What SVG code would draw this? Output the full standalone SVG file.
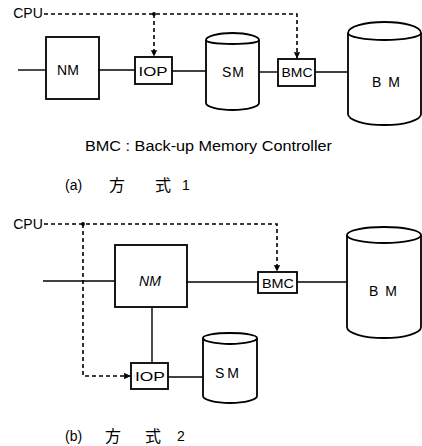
<svg xmlns="http://www.w3.org/2000/svg" width="422" height="446" viewBox="0 0 422 446">
  <defs>
    <marker id="tip" viewBox="0 0 6 6" refX="5.5" refY="3" markerWidth="4" markerHeight="4" orient="auto">
      <path d="M0,0 L6,3 L0,6 Z" fill="#000"/>
    </marker>
    <style>
      .box { fill: #fff; stroke: #000; stroke-width: 1.8; }
      .cyl { fill: #fff; stroke: #000; stroke-width: 1.8; stroke-linejoin: round; }
      .wire { fill: none; stroke: #000; stroke-width: 1.4; }
      .ctl { fill: none; stroke: #000; stroke-width: 1.6; stroke-dasharray: 4 3; }
      .lbl { font-family: "Liberation Sans", "DejaVu Sans", sans-serif; font-size: 14px; fill: #000; text-anchor: middle; }
      .sm { font-size: 13px; }
      .cap { font-family: "Liberation Sans", "Noto Sans CJK JP", sans-serif; font-size: 14px; fill: #000; }
      .kj { font-size: 16px; }
    </style>
  </defs>

  <rect width="422" height="446" fill="#fff"/>

  <!-- (a) scheme 1 : connectors -->
  <g id="connectors-a">
    <path class="wire" d="M18,70 H46"/>
    <path class="wire" d="M99,70 H135"/>
    <path class="wire" d="M172,71 H206"/>
    <path class="wire" d="M259,72 H278"/>
    <path class="wire" d="M315,72 H348"/>
    <path class="ctl" d="M44,14 H297 V58" marker-end="url(#tip)"/>
    <path class="ctl" d="M154,14 V56" marker-end="url(#tip)"/>
    <circle cx="154" cy="14" r="1.9" fill="#000"/>
  </g>

  <g id="cpu-a"><text class="lbl" x="28" y="18">CPU</text></g>
  <g id="nm-a">
    <rect class="box" x="46" y="37" width="53" height="62"/>
    <text class="lbl" x="68" y="75">NM</text>
  </g>
  <g id="iop-a">
    <rect class="box" x="135" y="57" width="37" height="27"/>
    <text class="lbl sm" x="153" y="76" textLength="29" lengthAdjust="spacingAndGlyphs">IOP</text>
  </g>
  <g id="sm-a">
    <path class="cyl" d="M206,40 A26.5,7 0 0 1 259,40 V103 A26.5,7 0 0 1 206,103 Z"/>
    <path class="cyl" fill="none" d="M206,40 A26.5,4 0 0 0 259,40"/>
    <text class="lbl" x="233" y="77" textLength="22" lengthAdjust="spacing">SM</text>
  </g>
  <g id="bmc-a">
    <rect class="box" x="278" y="59" width="37" height="27"/>
    <text class="lbl sm" x="297" y="77" textLength="31" lengthAdjust="spacingAndGlyphs">BMC</text>
  </g>
  <g id="bm-a">
    <path class="cyl" d="M348,33 A36.5,11 0 0 1 421,33 V114 A36.5,11 0 0 1 348,114 Z"/>
    <path class="cyl" fill="none" d="M348,33 A36.5,7 0 0 0 421,33"/>
    <text class="lbl" x="386" y="87" textLength="28" lengthAdjust="spacing">BM</text>
  </g>

  <text class="cap" x="85" y="151" textLength="247" lengthAdjust="spacingAndGlyphs">BMC : Back-up Memory Controller</text>
  <g class="cap">
    <text x="65" y="190">(a)</text>
    <text class="kj" x="109" y="191">方</text>
    <text class="kj" x="155" y="191">式</text>
    <text x="182" y="190">1</text>
  </g>

  <!-- (b) scheme 2 : connectors -->
  <g id="connectors-b">
    <path class="wire" d="M43,281 H115"/>
    <path class="wire" d="M187,282 H258"/>
    <path class="wire" d="M297,282 H347"/>
    <path class="wire" d="M152,307 V363"/>
    <path class="wire" d="M168,377 H203"/>
    <path class="ctl" d="M44,224 H277 V271" marker-end="url(#tip)"/>
    <path class="ctl" d="M83,224 V376 H130" marker-end="url(#tip)"/>
    <circle cx="83" cy="224" r="1.9" fill="#000"/>
  </g>

  <g id="cpu-b"><text class="lbl" x="28" y="229">CPU</text></g>
  <g id="nm-b">
    <rect class="box" x="115" y="245" width="72" height="62"/>
    <text class="lbl" x="150" y="286" font-style="italic">NM</text>
  </g>
  <g id="bmc-b">
    <rect class="box" x="258" y="272" width="39" height="21"/>
    <text class="lbl sm" x="278" y="288" textLength="32" lengthAdjust="spacingAndGlyphs">BMC</text>
  </g>
  <g id="bm-b">
    <path class="cyl" d="M347,235 A37,8 0 0 1 421,235 V327 A37,11 0 0 1 347,327 Z"/>
    <path class="cyl" fill="none" d="M347,235 A37,8 0 0 0 421,235"/>
    <text class="lbl" x="383" y="296" textLength="28" lengthAdjust="spacing">BM</text>
  </g>
  <g id="iop-b">
    <rect class="box" x="131" y="363" width="37" height="26"/>
    <text class="lbl sm" x="150" y="381" textLength="30" lengthAdjust="spacingAndGlyphs">IOP</text>
  </g>
  <g id="sm-b">
    <path class="cyl" d="M203,338 A27,5 0 0 1 257,338 V396 A27,7 0 0 1 203,396 Z"/>
    <path class="cyl" fill="none" d="M203,338 A27,6 0 0 0 257,338"/>
    <text class="lbl" x="227" y="378" textLength="24" lengthAdjust="spacing">SM</text>
  </g>

  <g class="cap">
    <text x="65" y="441">(b)</text>
    <text class="kj" x="105" y="442">方</text>
    <text class="kj" x="145" y="442">式</text>
    <text x="177" y="441">2</text>
  </g>
</svg>
